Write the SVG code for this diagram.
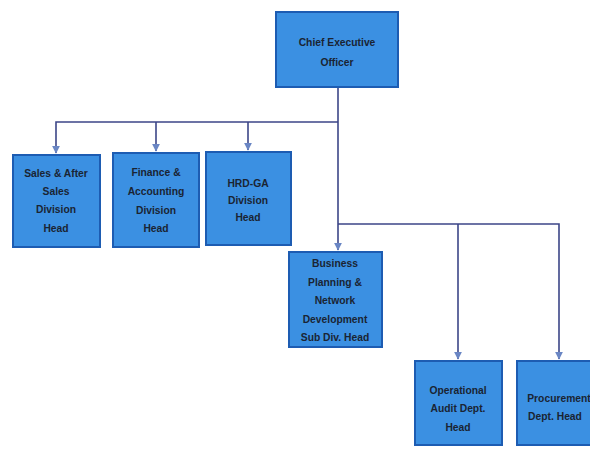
<svg xmlns="http://www.w3.org/2000/svg" width="590" height="450" viewBox="0 0 590 450">
  <style>
    .box { fill: #3b90e2; stroke: #1d5cb2; stroke-width: 2; }
    .lbl { font-family: "Liberation Sans", Arial, sans-serif; font-weight: bold; font-size: 10.3px; fill: #1a2433; text-anchor: middle; }
    .wire { fill: none; stroke: #3c4688; stroke-width: 1.6; }
  </style>
  <defs>
    <marker id="arrow" viewBox="0 0 10 10" refX="9" refY="5" markerWidth="5" markerHeight="5" orient="auto">
      <path d="M0,0 L10,5 L0,10 z" fill="#6a86c4"/>
    </marker>
  </defs>
  <rect width="590" height="450" fill="#ffffff"/>

  <g id="connectors">
    <path class="wire" d="M338,87 V250" marker-end="url(#arrow)"/>
    <path class="wire" d="M338,122 H56 V153" marker-end="url(#arrow)"/>
    <path class="wire" d="M156,122 V151" marker-end="url(#arrow)"/>
    <path class="wire" d="M248,122 V150" marker-end="url(#arrow)"/>
    <path class="wire" d="M338,224 H559 V359" marker-end="url(#arrow)"/>
    <path class="wire" d="M458,224 V359" marker-end="url(#arrow)"/>
  </g>

  <g id="ceo">
    <rect class="box" x="276" y="12" width="122" height="75"/>
    <text class="lbl" x="337" y="46">Chief Executive</text>
    <text class="lbl" x="337" y="66">Officer</text>
  </g>

  <g id="sales">
    <rect class="box" x="13" y="155" width="87" height="92"/>
    <text class="lbl" x="56" y="177">Sales &amp; After</text>
    <text class="lbl" x="56" y="195">Sales</text>
    <text class="lbl" x="56" y="213">Division</text>
    <text class="lbl" x="56" y="232">Head</text>
  </g>

  <g id="finance">
    <rect class="box" x="113" y="153" width="86" height="94"/>
    <text class="lbl" x="156" y="176">Finance &amp;</text>
    <text class="lbl" x="156" y="195">Accounting</text>
    <text class="lbl" x="156" y="214">Division</text>
    <text class="lbl" x="156" y="232">Head</text>
  </g>

  <g id="hrd">
    <rect class="box" x="206" y="152" width="85" height="93"/>
    <text class="lbl" x="248" y="187">HRD-GA</text>
    <text class="lbl" x="248" y="204">Division</text>
    <text class="lbl" x="248" y="221">Head</text>
  </g>

  <g id="business-planning">
    <rect class="box" x="289" y="252" width="93" height="95"/>
    <text class="lbl" x="335" y="267">Business</text>
    <text class="lbl" x="335" y="286">Planning &amp;</text>
    <text class="lbl" x="335" y="304">Network</text>
    <text class="lbl" x="335" y="323">Development</text>
    <text class="lbl" x="335" y="341">Sub Div. Head</text>
  </g>

  <g id="audit">
    <rect class="box" x="415" y="361" width="87" height="84"/>
    <text class="lbl" x="458" y="394">Operational</text>
    <text class="lbl" x="458" y="412">Audit Dept.</text>
    <text class="lbl" x="458" y="431">Head</text>
  </g>

  <g id="procurement">
    <rect class="box" x="517" y="361" width="86" height="84"/>
    <text class="lbl" x="559" y="402">Procurement</text>
    <text class="lbl" x="555" y="420">Dept. Head</text>
  </g>
</svg>
